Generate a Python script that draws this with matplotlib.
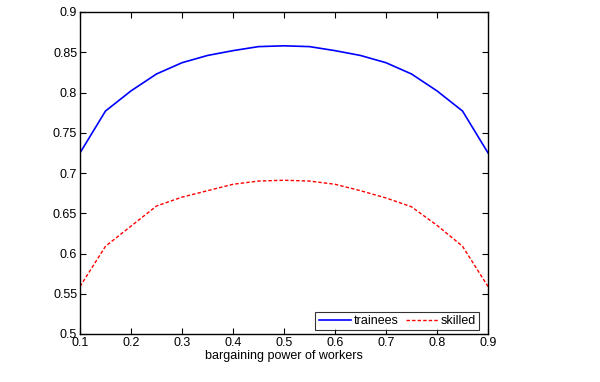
import numpy as np
import matplotlib.pyplot as plt

plt.rcParams['font.family'] = ['Liberation Sans', 'DejaVu Sans']

# bargaining power of workers
beta = [0.1, 0.15, 0.2, 0.25, 0.3, 0.35, 0.4, 0.45, 0.5,
        0.55, 0.6, 0.65, 0.7, 0.75, 0.8, 0.85, 0.9]
trainees = [0.725, 0.777, 0.802, 0.823, 0.837, 0.846, 0.852, 0.857, 0.858,
            0.857, 0.852, 0.846, 0.837, 0.823, 0.802, 0.777, 0.725]
skilled = [0.559, 0.609, 0.634, 0.659, 0.670, 0.678, 0.686, 0.690, 0.691,
           0.690, 0.686, 0.678, 0.669, 0.658, 0.635, 0.609, 0.559]

xticks = [0.1, 0.2, 0.3, 0.4, 0.5, 0.6, 0.7, 0.8, 0.9]
yticks = [0.5, 0.55, 0.6, 0.65, 0.7, 0.75, 0.8, 0.85, 0.9]

fig = plt.figure(figsize=(6.0, 3.82), dpi=100)
ax = fig.add_axes([80 / 600, 1 - 334 / 382, 408 / 600, 322 / 382])

ax.plot(beta, trainees, color='#0000ff', lw=1.2, label='trainees')
ax.plot(beta, skilled, color='#ff0000', lw=1.0, linestyle=(0, (2.5, 1.5)), label='skilled')

ax.set_xlim(0.1, 0.9)
ax.set_ylim(0.5, 0.9)
ax.set_xticks(xticks)
ax.set_xticklabels([f'{v:g}' for v in xticks])
ax.set_yticks(yticks)
ax.set_yticklabels([f'{v:g}' for v in yticks])
ax.tick_params(direction='in', top=True, right=True, length=4, width=0.8,
               labelsize=9, pad=2)
for s in ax.spines.values():
    s.set_linewidth(1.0)

ax.set_xlabel('bargaining power of workers', fontsize=9, labelpad=1)

leg = ax.legend(loc='lower right', ncol=2, fontsize=9, frameon=True,
                fancybox=False, edgecolor='black', handlelength=2.6,
                handletextpad=0.2, columnspacing=0.6, borderpad=0.25,
                borderaxespad=0.3, bbox_to_anchor=(0.988, 0.0))
leg.get_frame().set_linewidth(0.8)

fig.savefig('out.png', dpi=100)
